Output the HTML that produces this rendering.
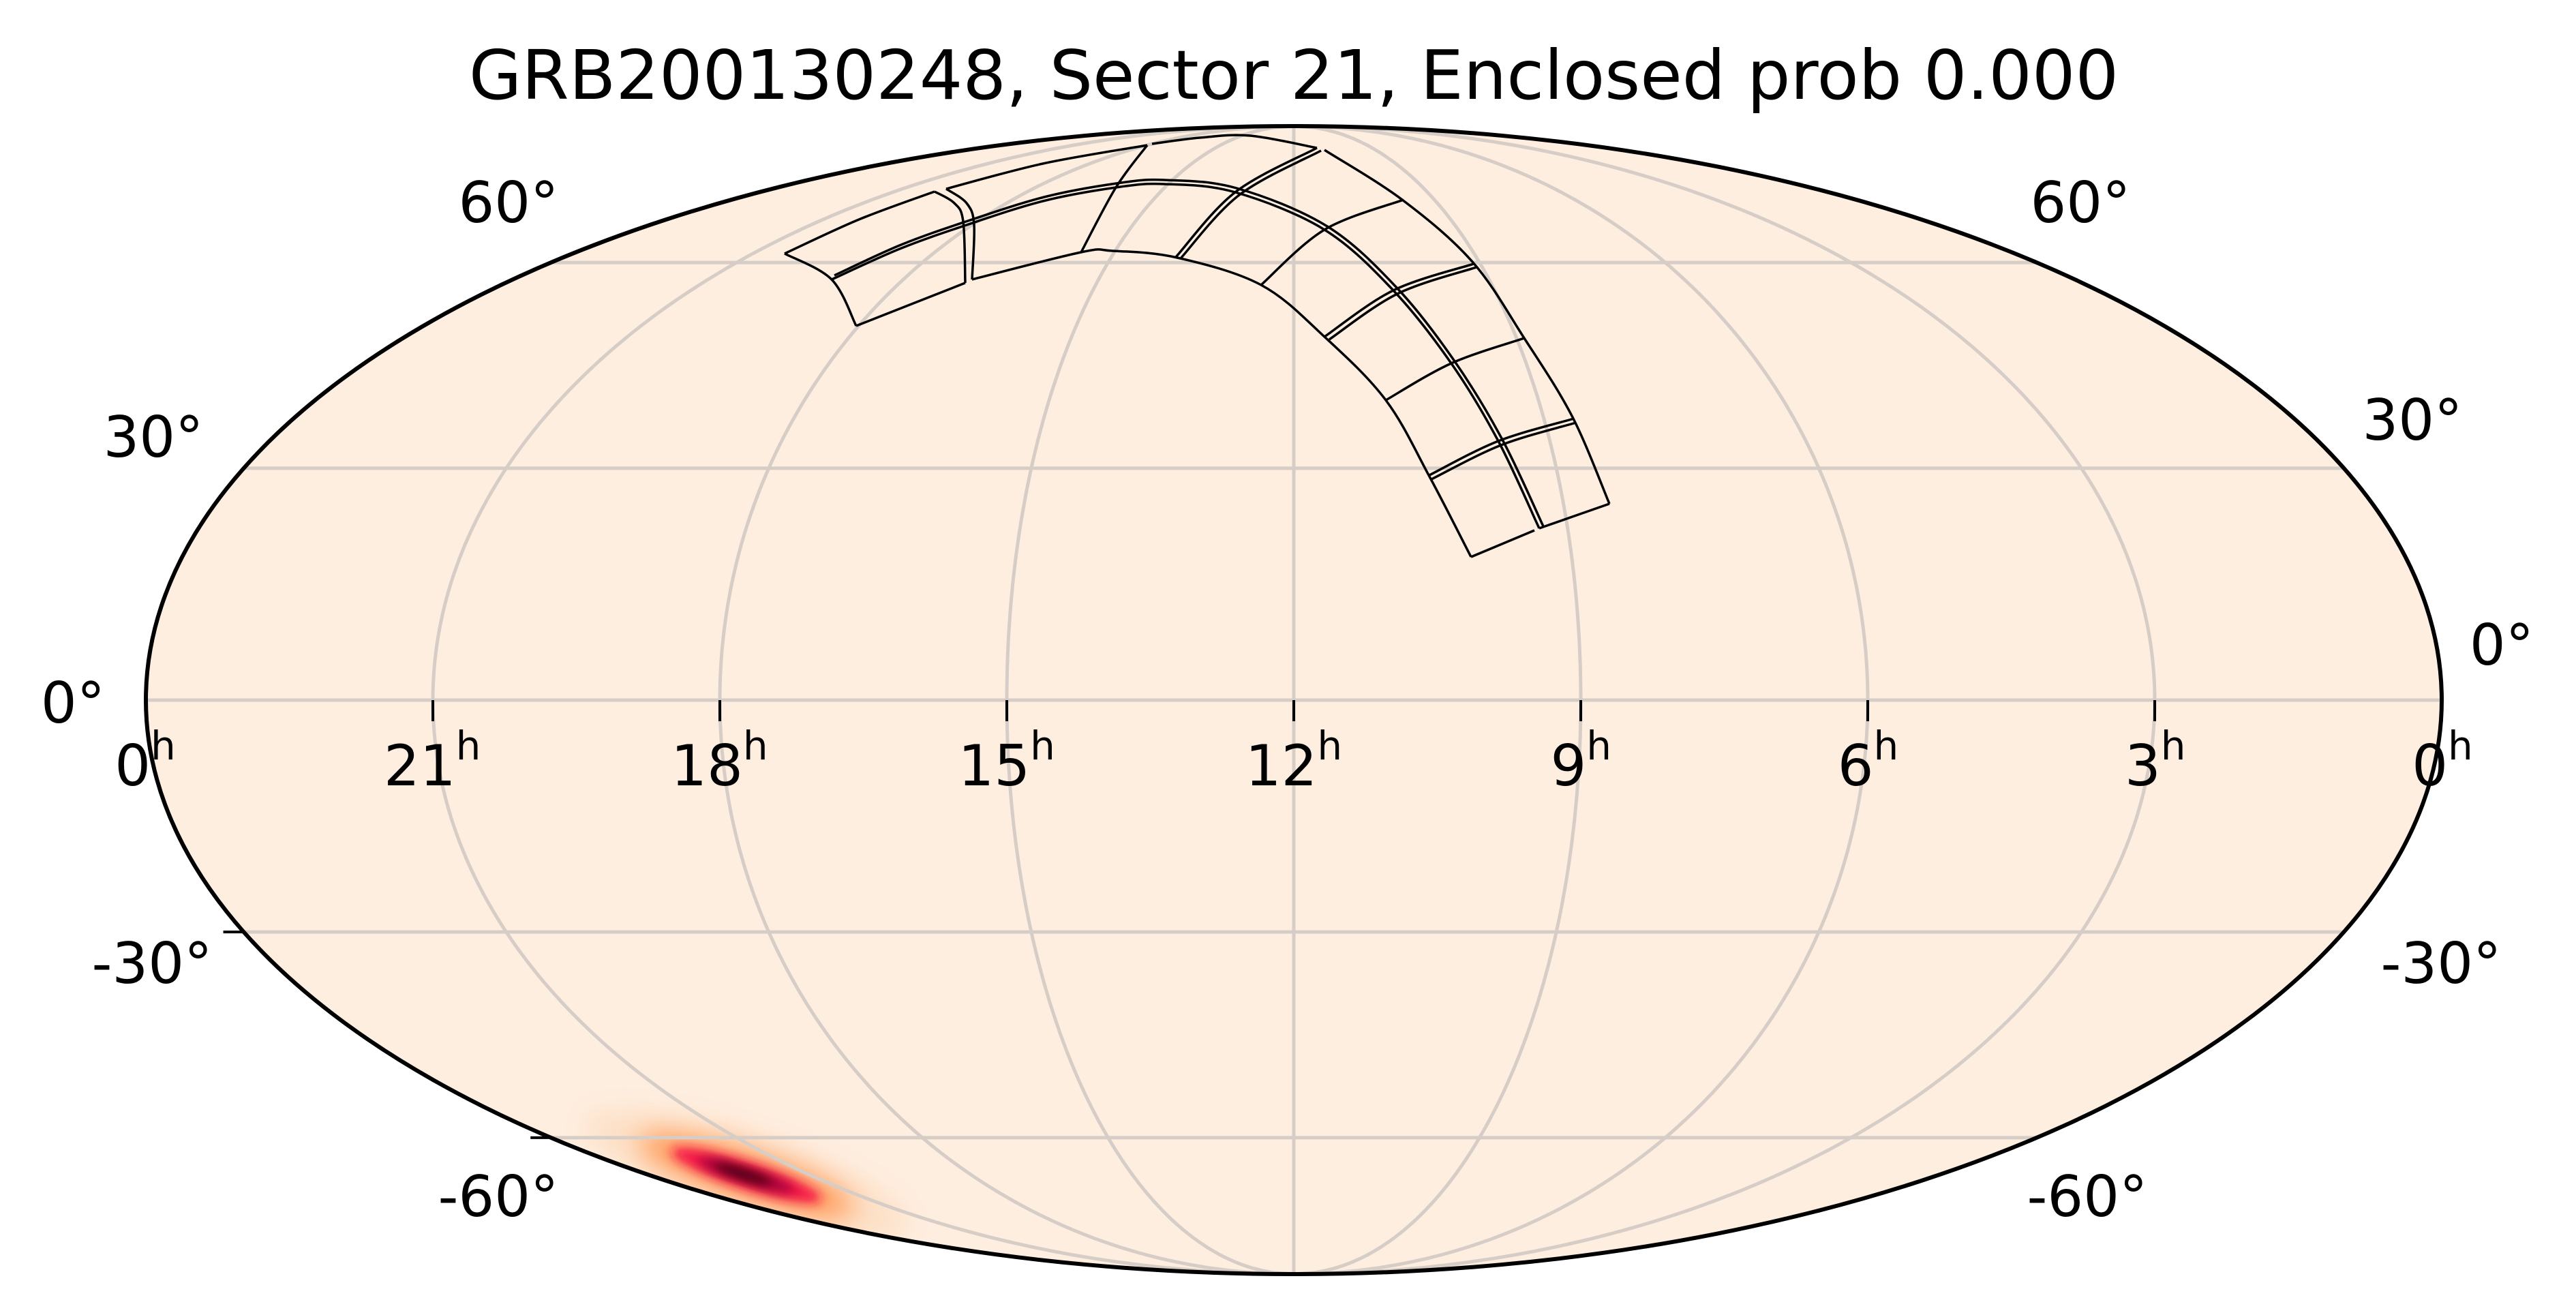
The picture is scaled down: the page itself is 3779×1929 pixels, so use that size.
<!DOCTYPE html>
<html><head><meta charset="utf-8"><style>
html,body{margin:0;padding:0;background:#fff;}
svg{display:block;}
text{font-family:"DejaVu Sans","Liberation Sans",sans-serif;fill:#000;}
</style></head><body>
<svg id="s" width="3779" height="1929" viewBox="0 0 3779 1929" xmlns="http://www.w3.org/2000/svg">
<defs>
<clipPath id="ell"><ellipse cx="1898" cy="1027" rx="1684" ry="842"/></clipPath>
<filter id="bl" x="-50%" y="-100%" width="200%" height="300%"><feGaussianBlur stdDeviation="20"/></filter>
<filter id="bl2" x="-50%" y="-100%" width="200%" height="300%"><feGaussianBlur stdDeviation="8"/></filter>
</defs>
<ellipse cx="1898" cy="1027" rx="1684" ry="842" fill="#feeee0"/>
<g clip-path="url(#ell)">
 <g transform="translate(1095,1724) rotate(18)">
  <ellipse cx="0" cy="0" rx="250" ry="60" fill="#fde0c6" filter="url(#bl)"/>
  <ellipse cx="0" cy="0" rx="165" ry="34" fill="#ff9550" filter="url(#bl)"/>
  <ellipse cx="0" cy="0" rx="115" ry="20" fill="#f5184a" filter="url(#bl2)"/>
  <ellipse cx="0" cy="0" rx="75" ry="11" fill="#a0003a" filter="url(#bl2)"/>
  <ellipse cx="-5" cy="0" rx="45" ry="6" fill="#300008" filter="url(#bl2)"/>
 </g>
</g>
<g id="grid" fill="none" stroke="#d6cec6" stroke-width="5"></g>
<g id="foot" fill="none" stroke="#000" stroke-width="3.5" stroke-linejoin="round"></g>
<ellipse cx="1898" cy="1027" rx="1684" ry="842" fill="none" stroke="#000" stroke-width="6"/>
<g id="ticks" stroke="#000" stroke-width="4"></g>
<text x="1898" y="145" font-size="100" text-anchor="middle">GRB200130248, Sector 21, Enclosed prob 0.000</text>
<g id="labels" font-size="83"></g>
</svg>
<script>
var cx=1898,cy=1027,A=1684,B=842,NS="http://www.w3.org/2000/svg";
function theta(phi){var t=phi,k=Math.PI*Math.sin(phi);if(Math.abs(Math.abs(phi)-Math.PI/2)<1e-9)return phi;for(var i=0;i<60;i++){var f=2*t+Math.sin(2*t)-k;t-=f/(2+2*Math.cos(2*t));}return t;}
function proj(ra,dec){var th=theta(dec*Math.PI/180);return [cx+A*((180-ra)/180)*Math.cos(th),cy-B*Math.sin(th)];}
function el(tag,at,par){var e=document.createElementNS(NS,tag);for(var k in at)e.setAttribute(k,at[k]);par.appendChild(e);return e;}
var g=document.getElementById('grid');
for(var ra=45;ra<360;ra+=45){var d="";for(var dec=-90;dec<=90;dec+=1){var p=proj(ra,dec);d+=(dec==-90?"M":"L")+p[0].toFixed(1)+" "+p[1].toFixed(1);}el('path',{d:d},g);}
[-60,-30,0,30,60].forEach(function(dec){var p1=proj(360,dec),p2=proj(0,dec);el('path',{d:"M"+p1[0]+" "+p1[1]+"L"+p2[0]+" "+p2[1]},g);});
var t=document.getElementById('ticks');
for(var ra=0;ra<=360;ra+=45){var p=proj(ra,0);el('line',{x1:p[0],y1:1027,x2:p[0],y2:1058},t);}
var p30=proj(360,-30),p60=proj(360,-60);
el('line',{x1:p30[0]-30,y1:p30[1],x2:p30[0],y2:p30[1]},t);
el('line',{x1:p60[0]-30,y1:p60[1],x2:p60[0],y2:p60[1]},t);
var L=document.getElementById('labels');
var hrs=[0,21,18,15,12,9,6,3,0];
hrs.forEach(function(h,i){var x=213+i*421.25;var tx=el('text',{x:x,y:1152,'text-anchor':'middle'},L);tx.appendChild(document.createTextNode(String(h)));var ts=el('tspan',{'font-size':58,dy:-38},tx);ts.textContent='h';});
var lat=[["60°",746,326],["60°",3052,326],["30°",225,670],["30°",3539,645],["0°",107,1060],["0°",3670,975],["-30°",223,1442],["-30°",3581,1442],["-60°",731,1784],["-60°",3062,1784]];
lat.forEach(function(a){var tx=el('text',{x:a[1],y:a[2],'text-anchor':'middle'},L);tx.textContent=a[0];});
var F=document.getElementById('foot');
function cr(pts){var d="M"+pts[0][0]+" "+pts[0][1];for(var i=0;i<pts.length-1;i++){var p0=pts[i-1]||pts[i],p1=pts[i],p2=pts[i+1],p3=pts[i+2]||p2;var c1=[p1[0]+(p2[0]-p0[0])/6,p1[1]+(p2[1]-p0[1])/6],c2=[p2[0]-(p3[0]-p1[0])/6,p2[1]-(p3[1]-p1[1])/6];d+="C"+c1[0].toFixed(1)+" "+c1[1].toFixed(1)+" "+c2[0].toFixed(1)+" "+c2[1].toFixed(1)+" "+p2[0]+" "+p2[1];}return d;}
var lines=[
[[1151,372],[1260,322],[1371,281]],
[[1371,281],[1400,298],[1413,325],[1416,415]],
[[1388,277],[1418,298],[1429,330],[1426,410]],
[[1388,277],[1530,240],[1683,213]],
[[1690,211],[1760,202],[1834,199],[1932,217]],
[[1943,220],[2057,293],[2160,384],[2236,496],[2307,612],[2361,739]],
[[2361,739],[2258,775]],[[2251,778],[2158,817]],
[[2158,817],[2097,699],[2033,587],[1943,494],[1850,418],[1727,378],[1632,368],[1586,370],[1426,410]],
[[1416,415],[1256,478]],
[[1256,478],[1220,410],[1151,372]],
[[1220,410],[1320,365],[1418,330],[1530,295],[1637,275],[1708,270],[1812,282],[1943,337],[2044,426],[2129,533],[2198,647],[2258,775]],
[[1224,404],[1322,359],[1420,324],[1532,289],[1638,269],[1708,264],[1814,276],[1947,332],[2049,422],[2134,530],[2204,645],[2264,772]],
[[1586,370],[1637,275],[1683,213]],
[[1725,377],[1812,282],[1932,217]],[[1732,379],[1818,286],[1938,221]],
[[1850,418],[1943,337],[2059,293]],
[[1943,494],[2044,426],[2162,387]],[[1950,498],[2050,431],[2166,392]],
[[2033,587],[2129,533],[2236,496]],
[[2097,697],[2198,647],[2309,614]],[[2100,703],[2202,653],[2312,620]]
];
lines.forEach(function(p){el('path',{d:cr(p)},F);});
</script>
</body></html>
